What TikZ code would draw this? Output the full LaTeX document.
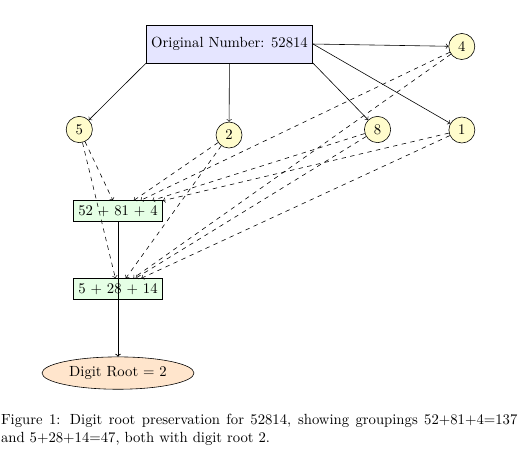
\documentclass[tikz,border=0pt]{standalone}
\usepackage{tikz}
\usetikzlibrary{shapes,arrows}
\usetikzlibrary{calc}

\begin{document}
\begin{tikzpicture}[
	digitnode/.style={circle, draw, fill=yellow!20},
	groupbox/.style={rectangle, draw, fill=green!10},
	link/.style={->},
	dashlink/.style={->, dashed}]
	\useasboundingbox (0,0) rectangle (12.45,-10.92);
	
	% positions
	\coordinate (O) at (5.485,-1.052);
	\coordinate (G1) at (2.82,-5.048);
	\coordinate (G2) at (2.82,-6.907);
	\coordinate (R) at (2.82,-8.915);
	
	% original number
	\node[rectangle, draw, fill=blue!10, minimum height=0.9cm] (orig) at (O) {Original Number: 52814};
	
	% digits
	\node[digitnode] (d5) at (1.895,-3.095) {5};
	\node[digitnode] (d2) at (5.473,-3.227) {2};
	\node[digitnode] (d8) at (9.022,-3.095) {8};
	\node[digitnode] (d1) at (11.037,-3.107) {1};
	\node[digitnode] (d4) at (11.035,-1.111) {4};
	
	% groupings
	\node[groupbox] (g1) at (G1) {52 + 81 + 4};
	\node[groupbox] (g2) at (G2) {5 + 28 + 14};
	
	% digit root
	\node[ellipse, draw, fill=orange!20] (root) at (R) {Digit Root = 2};
	
	% split into digits
	\draw[link] (orig.south west) -- (d5);
	\draw[link] (orig) -- (d2);
	\draw[link] (orig.south east) -- (d8);
	\draw[link] (orig.east) -- (d1);
	\draw[link] (orig.east) -- (d4);
	
	% digits to first grouping
	\draw[dashlink] (d5) -- (g1);
	\draw[dashlink] (d2) -- (g1);
	\draw[dashlink] (d8) -- (g1);
	\draw[dashlink] (d1) -- (g1);
	\draw[dashlink] (d4) -- (g1);
	
	% digits to second grouping
	\draw[dashlink] (d5) -- (g2);
	\draw[dashlink] (d2) -- (g2);
	\draw[dashlink] (d8) -- (g2);
	\draw[dashlink] (d1) -- (g2);
	\draw[dashlink] (d4) -- (g2);
	
	% groupings to digit root
	\draw[link] (g1) -- (root);
	\draw[link] (g2) -- (root);
	
	% caption
	\node[anchor=north west, inner sep=0pt, text width=351pt, align=justify] (cap) at (0.02,-9.9)
	{Figure 1: Digit root preservation for 52814, showing groupings 52+81+4=137
	and 5+28+14=47, both with digit root 2.};
\end{tikzpicture}
\end{document}
